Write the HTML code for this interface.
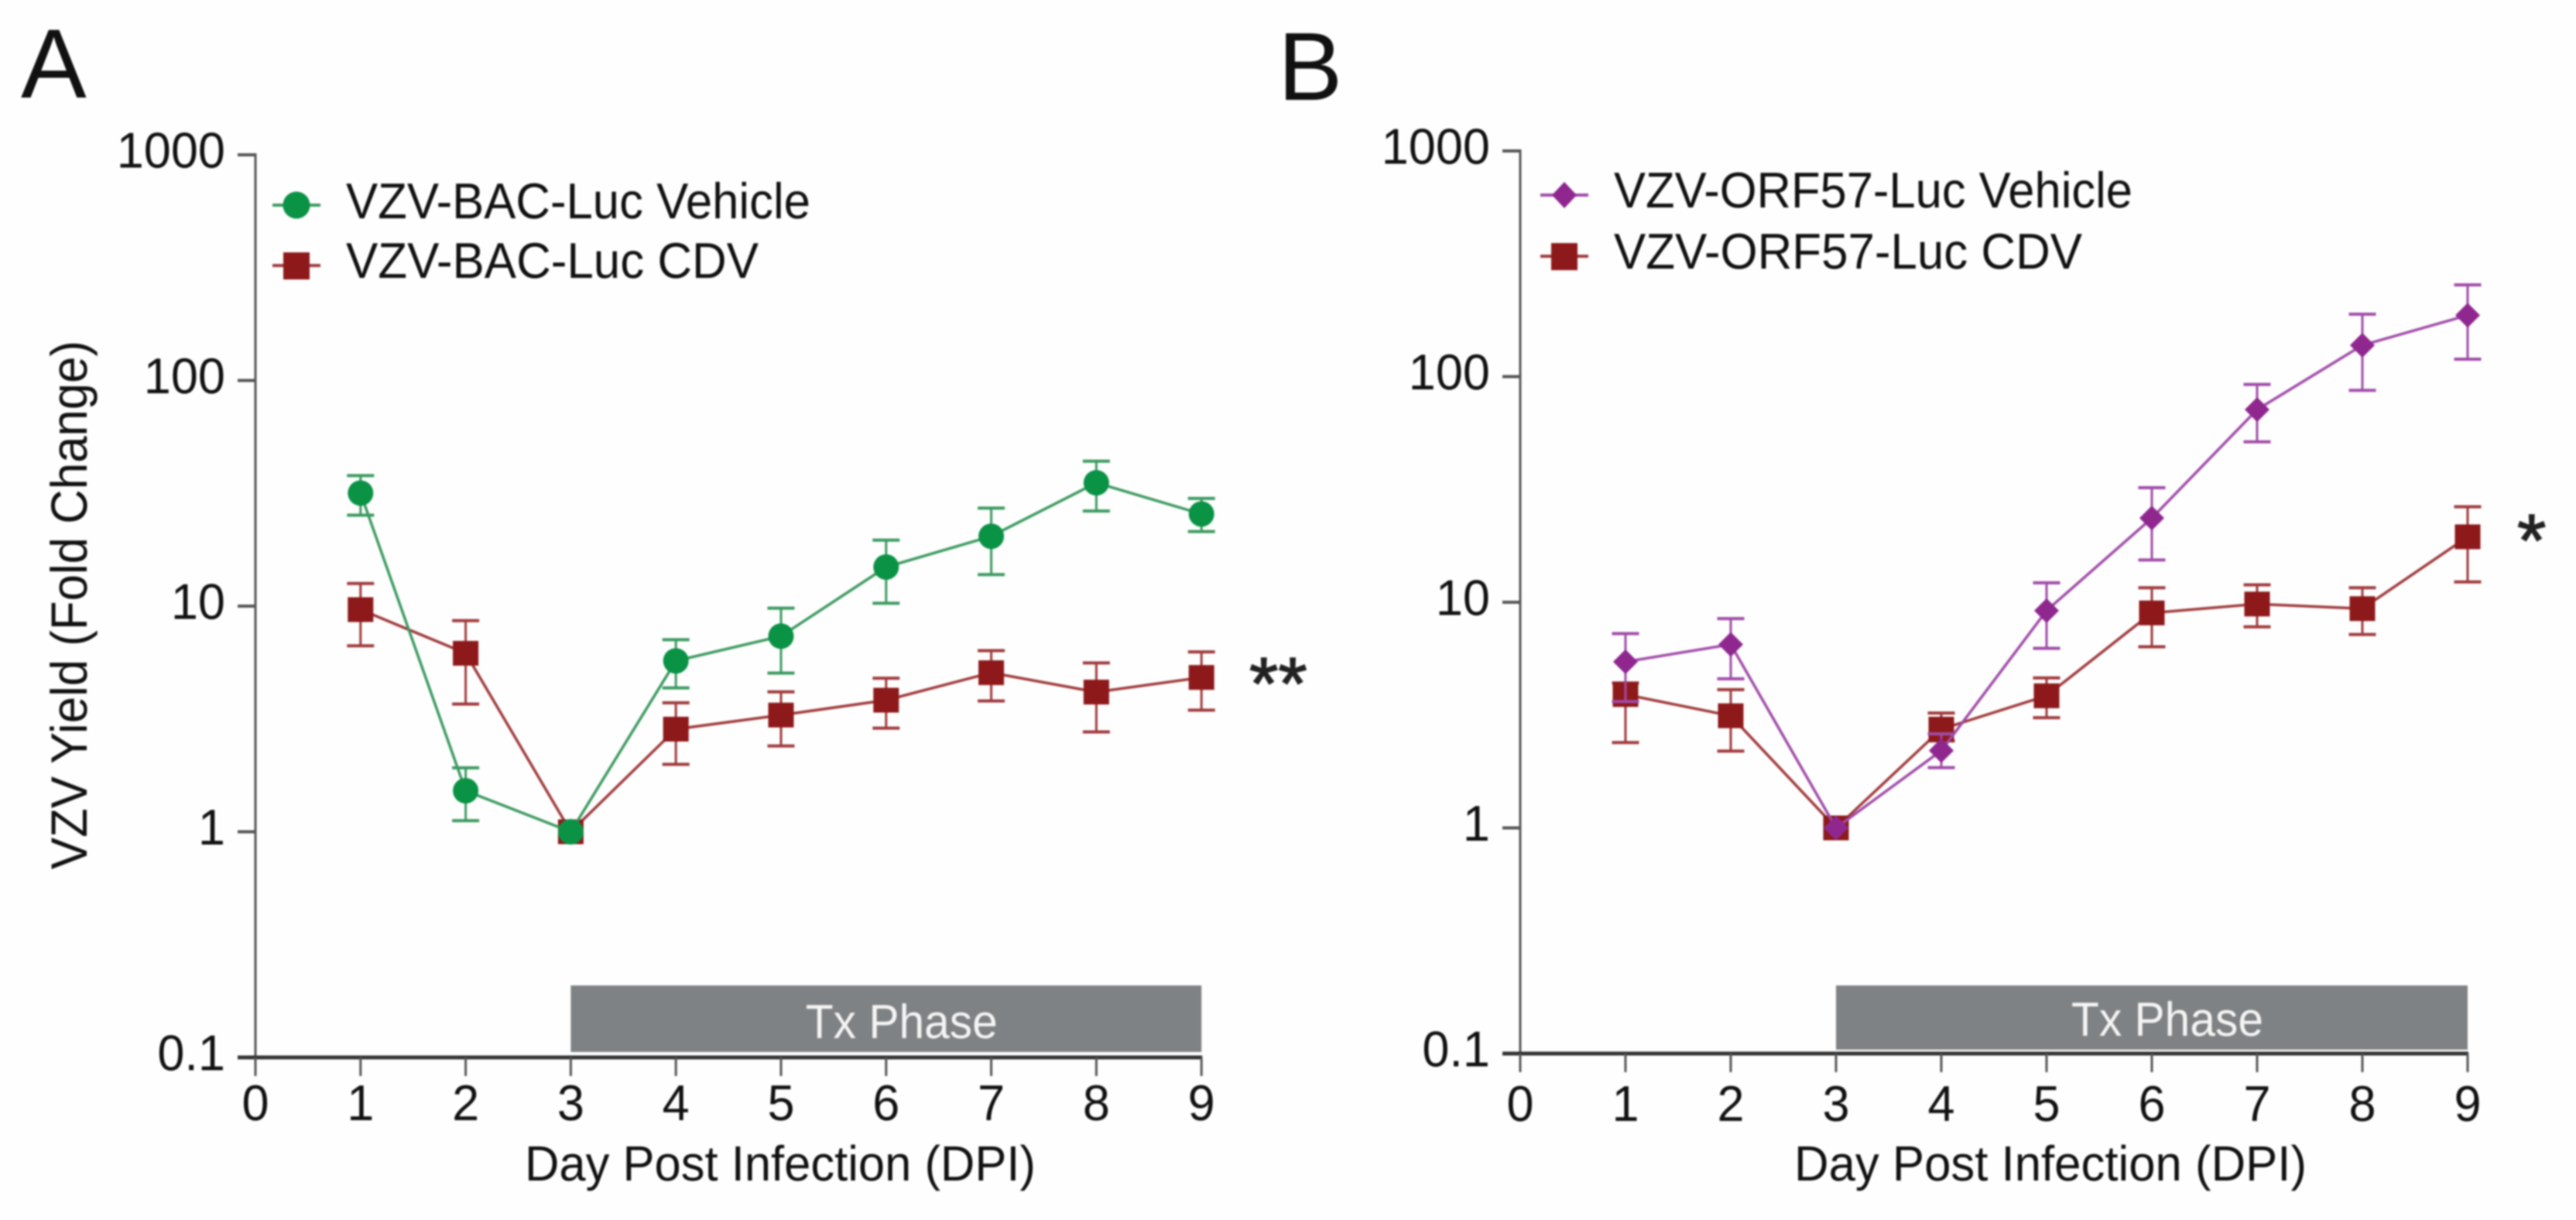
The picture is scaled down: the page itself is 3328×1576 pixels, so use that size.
<!DOCTYPE html>
<html lang="en">
<head>
<meta charset="utf-8">
<title>VZV Yield Charts</title>
<style>
html,body{margin:0;padding:0;background:#fefefe;width:3328px;height:1576px;overflow:hidden}
svg{display:block;filter:blur(1px)}
text{font-family:"Liberation Sans",sans-serif;fill:#111;text-rendering:geometricPrecision}
</style>
</head>
<body>
<svg id="figure" xmlns="http://www.w3.org/2000/svg" width="3328" height="1576" viewBox="0 0 3328 1576">
  <rect width="3328" height="1576" fill="#fefefe"/>

  <text x="27" y="126" font-size="127">A</text>
  <text x="1651" y="129" font-size="125">B</text>

  <text transform="translate(112,1123) rotate(-90)" font-size="66" textLength="683" lengthAdjust="spacingAndGlyphs">VZV Yield (Fold Change)</text>
  <text x="678" y="1525" font-size="64" textLength="660" lengthAdjust="spacingAndGlyphs">Day Post Infection (DPI)</text>
  <text x="2318" y="1525" font-size="64" textLength="662" lengthAdjust="spacingAndGlyphs">Day Post Infection (DPI)</text>

  <g id="panel-a"></g>
  <g id="panel-b"></g>

  <g>
    <g>
      <line x1="352" x2="414" y1="265" y2="265" stroke="#3c9a60" stroke-width="4"/>
      <circle cx="383" cy="265" r="17.5" fill="#0a9245"/>
      <text x="447" y="282" font-size="65" textLength="600" lengthAdjust="spacingAndGlyphs">VZV-BAC-Luc Vehicle</text>
    </g>
    <g>
      <line x1="352" x2="414" y1="343" y2="343" stroke="#a03a3c" stroke-width="4"/>
      <rect x="366" y="326" width="34" height="35" fill="#8e191b"/>
      <text x="447" y="359" font-size="65" textLength="533" lengthAdjust="spacingAndGlyphs">VZV-BAC-Luc CDV</text>
    </g>
  </g>
  <g>
    <g>
      <line x1="1990" x2="2052" y1="252" y2="252" stroke="#a04ca8" stroke-width="4"/>
      <polygon points="2021,235 2037,252 2021,269 2005,252" fill="#8f278f"/>
      <text x="2085" y="268" font-size="65" textLength="670" lengthAdjust="spacingAndGlyphs">VZV-ORF57-Luc Vehicle</text>
    </g>
    <g>
      <line x1="1990" x2="2052" y1="331" y2="331" stroke="#a03a3c" stroke-width="4"/>
      <rect x="2004" y="314" width="34" height="35" fill="#8e191b"/>
      <text x="2085" y="347" font-size="65" textLength="605" lengthAdjust="spacingAndGlyphs">VZV-ORF57-Luc CDV</text>
    </g>
  </g>

  <text x="1614" y="916" font-size="96" style="fill:#222;stroke:#222;stroke-width:1.5">**</text>
  <text x="3252" y="731" font-size="96" style="fill:#222;stroke:#222;stroke-width:1.5">*</text>
</svg>
<script>
// Shared axis data
const dayTicks = [0, 1, 2, 3, 4, 5, 6, 7, 8, 9];
const dayLabels = ['0', '1', '2', '3', '4', '5', '6', '7', '8', '9'];
const yieldTicks = [1000, 100, 10, 1, 0.1];
const yieldLabels = ['1000', '100', '10', '1', '0.1'];
const seriesDays = [1, 2, 3, 4, 5, 6, 7, 8, 9];
const txPhaseDays = [3, 9];

// Panel A values
const bacVehicle = [31.7, 1.52, 1, 5.72, 7.36, 14.9, 20.4, 35.2, 25.6];
const bacVehicleHigh = [37.9, 1.92, 1, 7.1, 9.79, 19.6, 27.2, 43.9, 30.0];
const bacVehicleLow = [25.3, 1.12, 1, 4.34, 5.05, 10.3, 13.8, 26.4, 21.4];
const bacCdv = [9.65, 6.18, 1, 2.85, 3.29, 3.83, 5.07, 4.16, 4.83];
const bacCdvHigh = [12.6, 8.62, 1, 3.73, 4.17, 4.79, 6.35, 5.6, 6.27];
const bacCdvLow = [6.67, 3.68, 1, 1.99, 2.40, 2.88, 3.80, 2.77, 3.46];

// Panel B values
const orfVehicle = [5.45, 6.50, 1, 2.2, 9.18, 23.6, 71.4, 137.7, 187];
const orfVehicleHigh = [7.26, 8.46, 1, 2.61, 12.2, 32.2, 92.3, 189, 255];
const orfVehicleLow = [3.63, 4.58, 1, 1.85, 6.25, 15.4, 51.4, 86.9, 119.5];
const orfCdv = [3.90, 3.14, 1, 2.74, 3.85, 8.97, 9.82, 9.37, 19.5];
const orfCdvHigh = [4.39, 4.1, 1, 3.23, 4.62, 11.6, 11.95, 11.6, 26.5];
const orfCdvLow = [2.39, 2.19, 1, 2.43, 3.08, 6.35, 7.78, 7.2, 12.3];

const NS = 'http://www.w3.org/2000/svg';
function svgEl(parent, tag, attrs) {
  const el = document.createElementNS(NS, tag);
  for (const k in attrs) el.setAttribute(k, attrs[k]);
  parent.appendChild(el);
  return el;
}
function makeXScale(x0, step) { return d => x0 + d * step; }
function makeYScale(yTop, decade) { return v => yTop + (3 - Math.log10(v)) * decade; }

function drawAxes(g, x, y, o) {
  const baseY = y(0.1);
  const band = svgEl(g, 'rect', { x: x(txPhaseDays[0]), y: baseY - o.barTop, width: x(txPhaseDays[1]) - x(txPhaseDays[0]), height: o.barTop - o.barBottom, fill: '#7f8284' });
  
  
  const bandLabel = svgEl(g, 'text', { x: x(6) + 20, y: baseY - o.barLabel, 'font-size': 62, 'text-anchor': 'middle', textLength: 248, lengthAdjust: 'spacingAndGlyphs', style: 'fill:#f4f4f4' });
  bandLabel.textContent = 'Tx Phase';
  
  

  const yAxis = svgEl(g, 'line', { x1: x(0), x2: x(0), y1: y(1000) - 2, y2: baseY, stroke: '#555', 'stroke-width': 3 });
  
  
  const xAxis = svgEl(g, 'line', { x1: x(0) - 23, x2: x(9) + 1, y1: baseY, y2: baseY, stroke: '#333', 'stroke-width': 5 });
  
  

  yieldTicks.forEach((v, i) => {
    if (v !== 0.1) {
      const t = svgEl(g, 'line', { x1: x(0) - 23, x2: x(0), y1: y(v), y2: y(v), stroke: '#555', 'stroke-width': 4 });
      
      
    }
    const lab = svgEl(g, 'text', { transform: 'translate(' + (x(0) - 39) + ',' + (y(v) + 16.5) + ') scale(.97,1)', 'font-size': 65, 'text-anchor': 'end' });
    lab.textContent = yieldLabels[i];
    
    
  });
  dayTicks.forEach((d, i) => {
    const t = svgEl(g, 'line', { x1: x(d), x2: x(d), y1: baseY, y2: baseY + 24, stroke: '#555', 'stroke-width': 3 });
    
    
    const lab = svgEl(g, 'text', { transform: 'translate(' + x(d) + ',' + (baseY + o.labelGap) + ') scale(.97,1)', 'font-size': 65, 'text-anchor': 'middle' });
    lab.textContent = dayLabels[i];
    
    
  });
}

function drawSeries(g, x, y, name, values, highs, lows, lineColor, markerColor, shape) {
  const pts = seriesDays.map((d, i) => x(d) + ',' + y(values[i])).join(' ');
  const path = svgEl(g, 'polyline', { points: pts, fill: 'none', stroke: lineColor, 'stroke-width': 3.5 });
  
  

  seriesDays.forEach((d, i) => {
    if (highs[i] === values[i] && lows[i] === values[i]) return;
    const px = x(d);
    const stem = svgEl(g, 'line', { x1: px, x2: px, y1: y(highs[i]), y2: y(lows[i]), stroke: lineColor, 'stroke-width': 3 });
    
    
    const capHigh = svgEl(g, 'line', { x1: px - 17.5, x2: px + 17.5, y1: y(highs[i]), y2: y(highs[i]), stroke: lineColor, 'stroke-width': 4 });
    
    
    const capLow = svgEl(g, 'line', { x1: px - 17.5, x2: px + 17.5, y1: y(lows[i]), y2: y(lows[i]), stroke: lineColor, 'stroke-width': 4 });
    
    
  });

  seriesDays.forEach((d, i) => {
    const px = x(d), py = y(values[i]);
    let m;
    if (shape === 'circle') {
      m = svgEl(g, 'circle', { cx: px, cy: py, r: 16.5, fill: markerColor });
    } else if (shape === 'diamond') {
      m = svgEl(g, 'polygon', { points: (px) + ',' + (py - 16) + ' ' + (px + 16) + ',' + py + ' ' + px + ',' + (py + 16) + ' ' + (px - 16) + ',' + py, fill: markerColor });
    } else {
      m = svgEl(g, 'rect', { x: px - 16.5, y: py - 16, width: 33, height: 32, fill: markerColor });
    }
    
    
  });
}

const xA = makeXScale(330, 135.8);
const yA = makeYScale(200, 291.5);
const gA = document.getElementById('panel-a');
drawAxes(gA, xA, yA, { barTop: 93, barBottom: 7, barLabel: 25, labelGap: 81 });
drawSeries(gA, xA, yA, 'bac-cdv', bacCdv, bacCdvHigh, bacCdvLow, '#a03a3c', '#8e191b', 'square');
drawSeries(gA, xA, yA, 'bac-vehicle', bacVehicle, bacVehicleHigh, bacVehicleLow, '#3c9a60', '#0a9245', 'circle');

const xB = makeXScale(1964, 136);
const yB = makeYScale(195, 291.5);
const gB = document.getElementById('panel-b');
drawAxes(gB, xB, yB, { barTop: 88, barBottom: 5, barLabel: 23, labelGap: 87 });
drawSeries(gB, xB, yB, 'orf57-cdv', orfCdv, orfCdvHigh, orfCdvLow, '#a03a3c', '#8e191b', 'square');
drawSeries(gB, xB, yB, 'orf57-vehicle', orfVehicle, orfVehicleHigh, orfVehicleLow, '#a04ca8', '#8f278f', 'diamond');
</script>
</body>
</html>
